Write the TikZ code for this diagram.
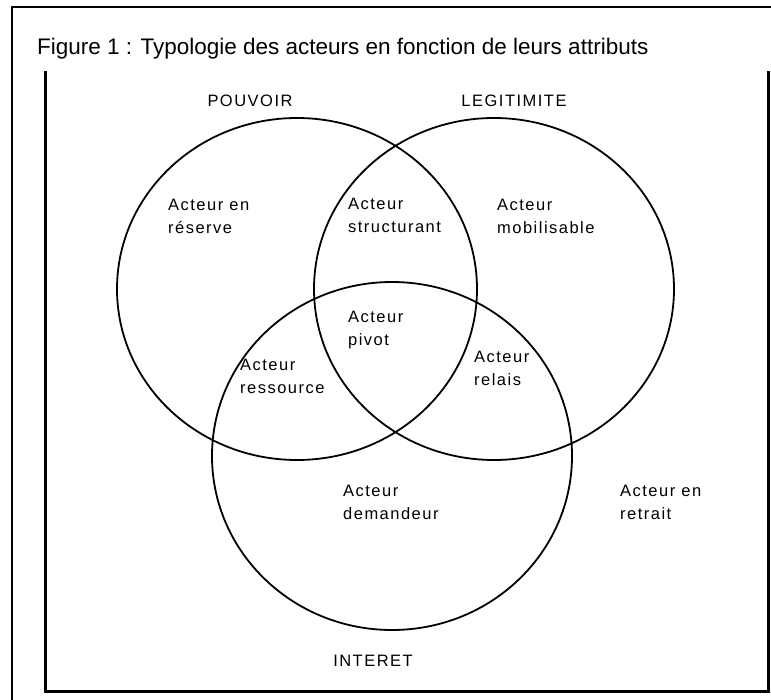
\documentclass[tikz,border=0pt]{standalone}
\usepackage{fontspec}
\setmainfont{Liberation Sans}
\newfontfamily\lblfont[LetterSpace=9]{Liberation Sans}
\begin{document}
\begin{tikzpicture}[x=1pt,y=-1pt,
  lbl/.style={font={\lblfont\fontsize{16.5}{23}\selectfont},align=left,inner sep=0pt,anchor=base west},
  head/.style={font={\lblfont\fontsize{16.5}{23}\selectfont},inner sep=0pt,anchor=base},
  venn/.style={line width=1.8pt},
  frameline/.style={line width=1.3pt},
  boxline/.style={line width=3pt}]
\useasboundingbox (0,0) rectangle (771,700);
% outer frame
\coordinate (ofbl) at (12,700);
\coordinate (oftl) at (12,7);
\coordinate (oftr) at (771,7);
\draw[frameline] (ofbl) -- (oftl) -- (oftr);
% inner box
\coordinate (ibtl) at (45,71);
\coordinate (ibbl) at (45,691);
\coordinate (ibbr) at (768,691);
\coordinate (ibtr) at (768,71);
\draw[boxline] (ibtl) -- (ibbl) -- (ibbr) -- (ibtr);
% title
\node[font={\fontsize{22.5}{26}\selectfont},inner sep=0pt,anchor=base west] (title) at (37,55) {Figure 1 : Typologie des acteurs en fonction de leurs attributs};
% circles
\draw[venn] (297,289) ellipse [x radius=180pt, y radius=171pt];
\draw[venn] (494,289) ellipse [x radius=180pt, y radius=171pt];
\draw[venn] (392,456) ellipse [x radius=180pt, y radius=174pt];
% headings
\node[head] (pouvoir) at (250,107) {POUVOIR};
\node[head] (legit) at (514,107) {LEGITIMITE};
\node[head] (interet) at (373,666) {INTERET};
% labels (base anchor = last line)
\node[lbl] (reserve) at (168,234) {Acteur en\\réserve};
\node[lbl] (struct) at (348,233) {Acteur\\structurant};
\node[lbl] (mobil) at (497,234) {Acteur\\mobilisable};
\node[lbl] (pivot) at (348,346) {Acteur\\pivot};
\node[lbl] (ressource) at (240,393) {Acteur\\ressource};
\node[lbl] (relais) at (474,385) {Acteur\\relais};
\node[lbl] (demandeur) at (343,519) {Acteur\\demandeur};
\node[lbl] (retrait) at (620,519) {Acteur en\\retrait};
\end{tikzpicture}
\end{document}
